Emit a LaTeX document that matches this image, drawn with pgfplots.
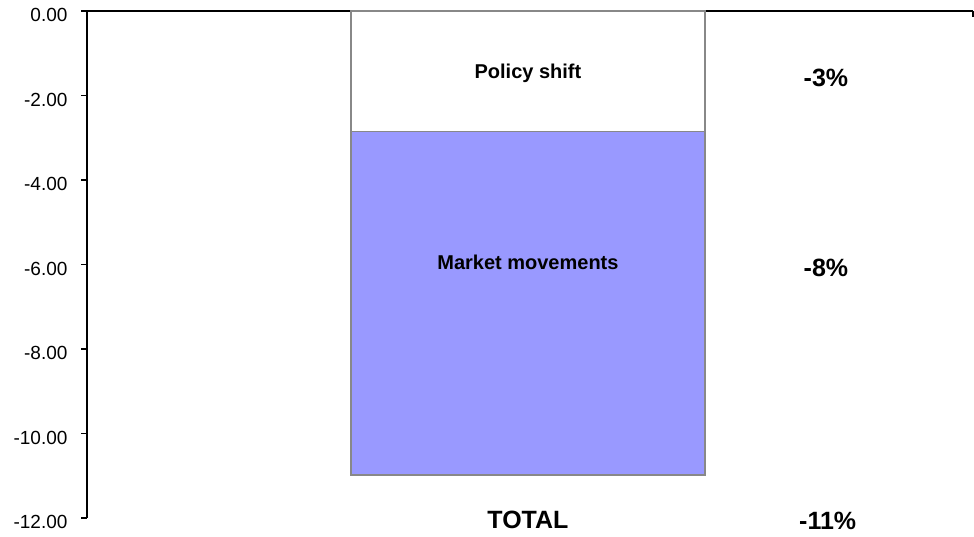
\documentclass[border=0pt]{standalone}
\usepackage{pgfplots}
\pgfplotsset{compat=1.18}
\usepackage{fontspec}
\setmainfont{Liberation Sans}
\definecolor{barblue}{HTML}{9999FF}
\definecolor{bargray}{HTML}{888888}
\begin{document}
\begin{tikzpicture}
\begin{axis}[
  name=ax, at={(0,0)}, anchor=south west,
  scale only axis, width=886pt, height=507pt,
  xmin=0, xmax=1, ymin=-12, ymax=0,
  axis x line*=top, axis y line*=left,
  axis line style={line width=1.5pt, -},
  xtick=\empty,
  ytick={-12,-10,-8,-6,-4,-2,0},
  tick align=outside,
  major tick length=6pt,
  tick style={line width=1.5pt, black},
  yticklabel style={font=\fontsize{19}{22}\selectfont, xshift=-10pt, yshift=-4pt},
  /pgf/number format/.cd, fixed, fixed zerofill, precision=2, assume math mode=true,
  /pgfplots/.cd,
  ybar stacked, bar width=354pt,
  clip=false,
]
\addplot[draw=bargray, line width=1.2pt, fill=white] coordinates {(0.4977,-2.86)};
\addplot[draw=bargray, line width=1.2pt, fill=barblue] coordinates {(0.4977,-8.12)};
\coordinate (lp) at (axis cs:0.4977,-1.47);
\coordinate (lm) at (axis cs:0.4977,-5.94);
\coordinate (r3) at (axis cs:0.834,-1.59);
\coordinate (r8) at (axis cs:0.834,-6.08);
\coordinate (r11) at (axis cs:0.836,-12.07);
\coordinate (tt) at (axis cs:0.4977,-12.05);
\coordinate (xr) at (axis cs:1,0);
\end{axis}
\node[font=\bfseries\fontsize{20}{24}\selectfont] at (lp) {Policy shift};
\node[font=\bfseries\fontsize{20}{24}\selectfont] at (lm) {Market movements};
\node[font=\bfseries\fontsize{25}{30}\selectfont] at (r3) {-3\%};
\node[font=\bfseries\fontsize{25}{30}\selectfont] at (r8) {-8\%};
\node[font=\bfseries\fontsize{25}{30}\selectfont] at (r11) {-11\%};
\node[font=\bfseries\fontsize{25}{30}\selectfont] at (tt) {TOTAL};
\draw[line width=1.5pt] (xr) -- ++(0,-6pt);
\pgfresetboundingbox
\path (-87pt,-18pt) rectangle (887pt,518pt);
\end{tikzpicture}
\end{document}
